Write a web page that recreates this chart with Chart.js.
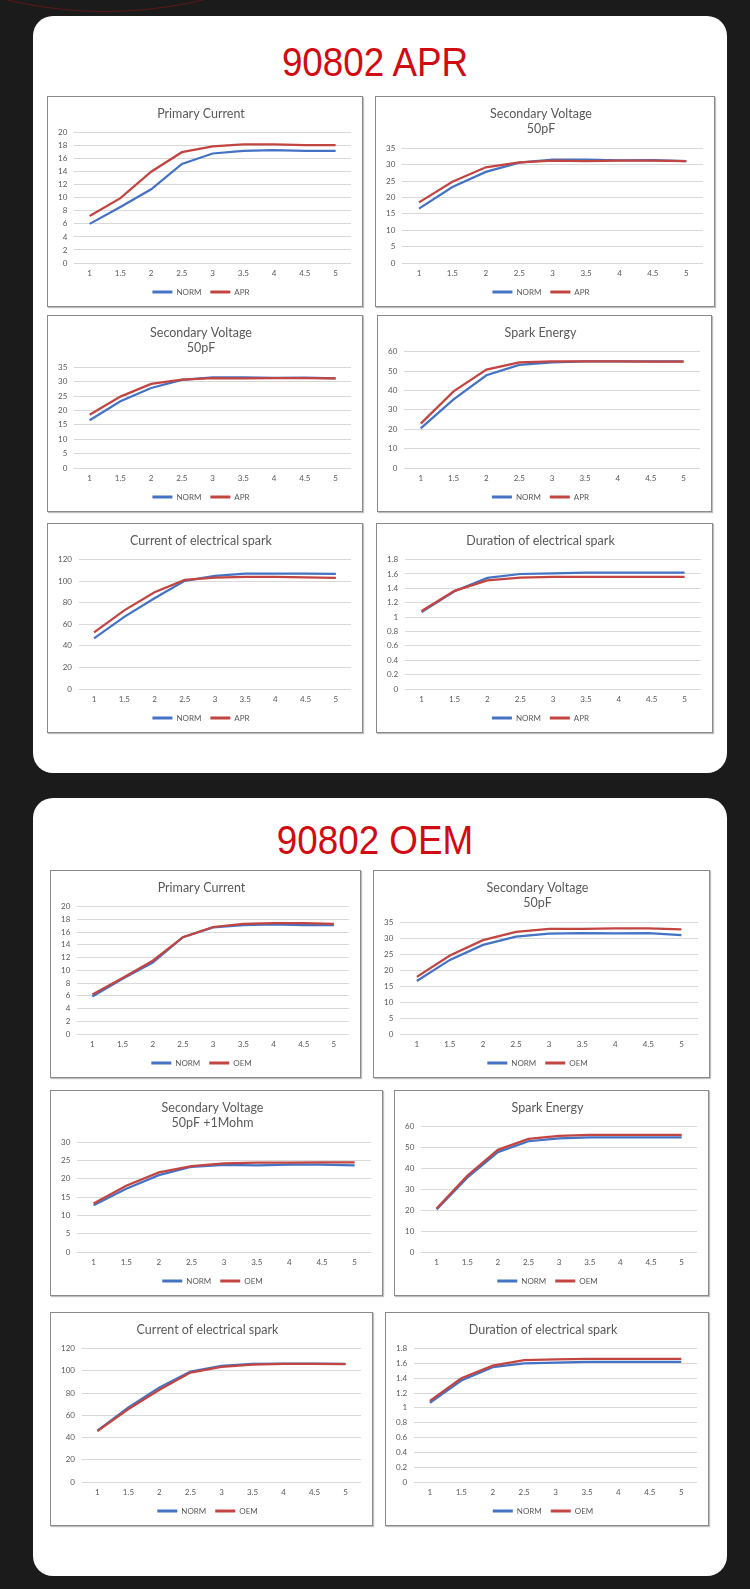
<!DOCTYPE html>
<html><head><meta charset="utf-8">
<script src="https://cdn.jsdelivr.net/npm/chart.js@4.4.0/dist/chart.umd.min.js"></script>
<style>
html,body{margin:0;padding:0;background:#1b1b1b;}
body{width:750px;height:1589px;position:relative;overflow:hidden;}
.arc{position:absolute;left:-318px;top:-834px;width:846px;height:846px;border:1px solid #5e1717;border-radius:50%;box-sizing:border-box;}
.panel{position:absolute;left:33px;width:694px;background:#fff;border-radius:20px;}
.title{position:absolute;left:0;width:750px;text-align:center;font-family:"Liberation Sans",Arimo,Arial,sans-serif;font-size:40px;line-height:40px;color:#d20a11;transform:scaleX(0.92);transform-origin:375px 0;white-space:nowrap;}
.box{position:absolute;box-sizing:border-box;border:1px solid #8a8a8a;box-shadow:1px 1px 1px rgba(0,0,0,0.25);background:#fff;}
.box canvas{display:block;}
</style></head>
<body>
<div class="arc"></div>
<div class="panel" style="top:16px;height:757px;"></div>
<div class="panel" style="top:798px;height:778px;"></div>
<div class="title" style="top:42px;">90802 APR</div>
<div class="title" style="top:820px;">90802 OEM</div>
<div id="boxes"></div>
<script>
// ---- categories ----
const xLabels = ['1', '1.5', '2', '2.5', '3', '3.5', '4', '4.5', '5'];

// ---- 90802 APR ----
const aprPrimaryNorm = [6.0, 8.6, 11.3, 15.2, 16.8, 17.2, 17.3, 17.2, 17.2];
const aprPrimaryApr  = [7.2, 9.95, 14.0, 17.0, 17.9, 18.2, 18.2, 18.1, 18.1];
const aprSecVoltNorm = [16.6, 23.2, 27.8, 30.6, 31.5, 31.5, 31.3, 31.4, 31.1];
const aprSecVoltApr  = [18.5, 24.8, 29.2, 30.7, 31.2, 31.1, 31.2, 31.2, 31.1];
const aprEnergyNorm  = [20.4, 35.4, 47.8, 53.2, 54.5, 55.0, 55.0, 55.0, 55.0];
const aprEnergyApr   = [22.9, 39.5, 50.7, 54.5, 55.0, 55.0, 55.0, 54.8, 54.8];
const aprCurrentNorm = [47.0, 66.9, 84.2, 100.3, 104.9, 107.0, 107.0, 107.0, 106.7];
const aprCurrentApr  = [52.5, 72.9, 89.7, 101.2, 103.3, 104.0, 104.0, 103.6, 103.0];
const aprDurNorm     = [1.07, 1.36, 1.545, 1.60, 1.61, 1.62, 1.62, 1.62, 1.62];
const aprDurApr      = [1.085, 1.365, 1.51, 1.55, 1.56, 1.56, 1.56, 1.56, 1.56];

// ---- 90802 OEM ----
const oemPrimaryNorm = [5.9, 8.66, 11.2, 15.2, 16.75, 17.1, 17.2, 17.1, 17.1];
const oemPrimaryOem  = [6.2, 8.8, 11.5, 15.2, 16.8, 17.3, 17.4, 17.4, 17.3];
const oemSecVoltNorm = [16.6, 23.2, 27.9, 30.5, 31.4, 31.6, 31.5, 31.6, 31.0];
const oemSecVoltOem  = [17.9, 24.6, 29.4, 32.0, 32.9, 32.9, 33.1, 33.1, 32.8];
const oemSecMohmNorm = [12.8, 17.3, 21.0, 23.3, 23.8, 23.7, 23.9, 23.9, 23.7];
const oemSecMohmOem  = [13.25, 18.1, 21.75, 23.5, 24.2, 24.4, 24.4, 24.5, 24.5];
const oemEnergyNorm  = [20.4, 35.6, 47.8, 53.0, 54.4, 54.9, 54.9, 54.9, 54.9];
const oemEnergyOem   = [20.8, 36.5, 48.9, 54.1, 55.6, 56.0, 56.1, 56.1, 56.1];
const oemCurrentNorm = [46.3, 67.2, 85.1, 99.4, 104.5, 106.3, 106.6, 106.6, 106.3];
const oemCurrentOem  = [45.7, 65.7, 83.0, 98.5, 103.6, 105.7, 106.3, 106.3, 106.0];
const oemDurNorm     = [1.07, 1.37, 1.55, 1.60, 1.61, 1.62, 1.62, 1.62, 1.62];
const oemDurOem      = [1.095, 1.40, 1.57, 1.645, 1.655, 1.66, 1.66, 1.66, 1.66];

// ---- y-axis tick ranges [max, step] ----
const yCurrentPrimary = [20, 2];
const yVoltage = [35, 5];
const yVoltageMohm = [30, 5];
const yEnergy = [60, 10];
const ySparkCurrent = [120, 20];
const yDuration = [1.8, 0.2];

const BLUE = '#4472c4';
const RED = '#c34541';

const charts = [
  {box:[47, 96, 316, 211],  title:['Primary Current'], norm:aprPrimaryNorm, other:aprPrimaryApr, name:'APR', y:yCurrentPrimary},
  {box:[375, 96, 340, 211], title:['Secondary Voltage', '50pF'], norm:aprSecVoltNorm, other:aprSecVoltApr, name:'APR', y:yVoltage},
  {box:[47, 315, 316, 197], title:['Secondary Voltage', '50pF'], norm:aprSecVoltNorm, other:aprSecVoltApr, name:'APR', y:yVoltage},
  {box:[377, 315, 335, 197], title:['Spark Energy'], norm:aprEnergyNorm, other:aprEnergyApr, name:'APR', y:yEnergy},
  {box:[47, 523, 316, 210], title:['Current of electrical spark'], norm:aprCurrentNorm, other:aprCurrentApr, name:'APR', y:ySparkCurrent},
  {box:[376, 523, 337, 210], title:['Duration of electrical spark'], norm:aprDurNorm, other:aprDurApr, name:'APR', y:yDuration},

  {box:[50, 870, 311, 208], title:['Primary Current'], norm:oemPrimaryNorm, other:oemPrimaryOem, name:'OEM', y:yCurrentPrimary},
  {box:[373, 870, 337, 208], title:['Secondary Voltage', '50pF'], norm:oemSecVoltNorm, other:oemSecVoltOem, name:'OEM', y:yVoltage},
  {box:[50, 1090, 333, 206], title:['Secondary Voltage', '50pF +1Mohm'], norm:oemSecMohmNorm, other:oemSecMohmOem, name:'OEM', y:yVoltageMohm},
  {box:[394, 1090, 315, 206], title:['Spark Energy'], norm:oemEnergyNorm, other:oemEnergyOem, name:'OEM', y:yEnergy},
  {box:[50, 1312, 323, 214], title:['Current of electrical spark'], norm:oemCurrentNorm, other:oemCurrentOem, name:'OEM', y:ySparkCurrent},
  {box:[385, 1312, 324, 214], title:['Duration of electrical spark'], norm:oemDurNorm, other:oemDurOem, name:'OEM', y:yDuration}
];

const host = document.getElementById('boxes');
const TXT = '#595959';

charts.forEach(c => {
  const [l, t, w, h] = c.box;
  const div = document.createElement('div');
  div.className = 'box';
  div.style.left = l + 'px';
  div.style.top = t + 'px';
  div.style.width = w + 'px';
  div.style.height = h + 'px';
  const cv = document.createElement('canvas');
  cv.width = w - 2;
  cv.height = h - 2;
  cv.style.width = (w - 2) + 'px';
  cv.style.height = (h - 2) + 'px';
  div.appendChild(cv);
  host.appendChild(div);

  new Chart(cv, {
    type: 'line',
    data: {
      labels: xLabels,
      datasets: [
        {label: c.name, data: c.other, borderColor: RED, backgroundColor: RED, borderWidth: 2.25, pointRadius: 0, tension: 0},
        {label: 'NORM', data: c.norm, borderColor: BLUE, backgroundColor: BLUE, borderWidth: 2.25, pointRadius: 0, tension: 0}
      ]
    },
    options: {
      responsive: false,
      animation: false,
      events: [],
      layout: {padding: {left: 3, right: 11, top: 0, bottom: 0}},
      plugins: {
        title: {
          display: true, text: c.title, color: TXT,
          font: {family: 'Lato', size: 12.5, weight: 'normal', lineHeight: 1.25},
          padding: {top: 9, bottom: 11}
        },
        legend: {
          position: 'bottom', reverse: true, maxHeight: 28,
          labels: {
            boxWidth: 20, boxHeight: 3, padding: 9, color: TXT,
            font: {family: 'Lato', size: 8},
            generateLabels: (chart) => Chart.defaults.plugins.legend.labels.generateLabels(chart).map(it => Object.assign(it, {lineWidth: 0}))
          }
        },
        tooltip: {enabled: false}
      },
      scales: {
        x: {
          offset: true,
          grid: {display: false, drawTicks: false},
          border: {display: false},
          ticks: {color: TXT, font: {family: 'Lato', size: 8}, padding: 6, maxRotation: 0, autoSkip: false},
          afterFit: s => { s.height = 16; }
        },
        y: {
          min: 0, max: c.y[0],
          grid: {color: '#d9d9d9', drawTicks: false, lineWidth: 1},
          border: {display: false},
          ticks: {stepSize: c.y[1], autoSkip: false, color: TXT, font: {family: 'Lato', size: 8}, padding: 7,
                  callback: v => String(+(+v).toFixed(2))}
        }
      }
    }
  });
});
</script>
</body></html>
